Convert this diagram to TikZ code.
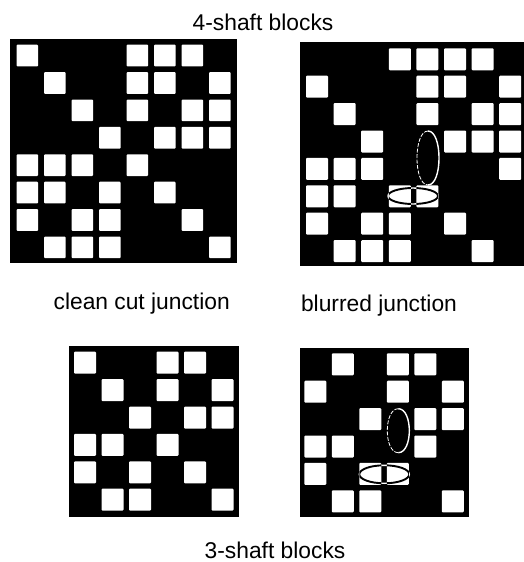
\documentclass[tikz,border=0pt]{standalone}
\usepackage{fontspec}
\setmainfont{Liberation Sans}

\begin{document}
\begin{tikzpicture}[
  x=1pt,y=-1pt,
  board/.style={fill=black},
  cell/.style={fill=white,rounded corners=1pt},
  caption/.style={font=\fontsize{22.8}{24}\selectfont,text=black,inner sep=0pt,anchor=base},
  ringlight/.style={draw=white,line width=1.4pt},
  ringfaint/.style={draw=white,line width=0.8pt,dash pattern=on 4pt off 1.5pt},
  ringdark/.style={draw=black,line width=1.9pt},
]
\useasboundingbox (0,0) rectangle (524,562);
\node[caption] (top) at (263,30.5) {4-shaft blocks};
\node[caption] (clean) at (141.7,309) {clean cut junction};
\node[caption] (blurred) at (379,311) {blurred junction};
\node[caption] (bottom) at (275,558) {3-shaft blocks};
% 4-shaft, clean
\fill[board] (10,39) rectangle (237,263);
\foreach \r/\row in {0/{0,4,5,6},1/{1,4,5,7},2/{2,4,6,7},3/{3,5,6,7},4/{0,1,2,4},5/{0,1,3,5},6/{0,2,3,6},7/{1,2,3,7}}{
  \foreach \c in \row {\fill[cell] (16.5+27.5*\c,44.7+27.4*\r) rectangle ++(21.7,21.7);}}
% 4-shaft, blurred
\fill[board] (300,41.5) rectangle (524,265.5);
\foreach \r/\row in {0/{3,4,5,6},1/{0,4,5,7},2/{1,4,6,7},3/{2,5,6,7},4/{0,1,2,7},5/{0,1,3,4},6/{0,2,3,5},7/{1,2,3,6}}{
  \foreach \c in \row {\fill[cell] (306+27.6*\c,48.3+27.4*\r) rectangle ++(22,22);}}
\draw[ringlight] (428,131) .. controls (442.7,131) and (442.7,185) .. (428,185);
\draw[ringfaint] (428,131) .. controls (413.3,131) and (413.3,185) .. (428,185);
\draw[ringlight] (413,196) ellipse (25 and 8);
\begin{scope}
\clip (388.8,185.3) rectangle ++(22,22) (416.4,185.3) rectangle ++(22,22);
\draw[ringdark] (413,196) ellipse (25 and 8);
\end{scope}
% 3-shaft, clean
\fill[board] (68.5,346) rectangle (239,516.5);
\foreach \r/\row in {0/{0,3,4},1/{1,3,5},2/{2,4,5},3/{0,1,3},4/{0,2,4},5/{1,2,5}}{
  \foreach \c in \row {\fill[cell] (74+27.5*\c,351.7+27.4*\r) rectangle ++(22,22);}}
% 3-shaft, blurred
\fill[board] (300,348.3) rectangle (469,517.3);
\foreach \r/\row in {0/{1,3,4},1/{0,3,5},2/{2,4,5},3/{0,1,4},4/{0,2,3},5/{1,2,5}}{
  \foreach \c in \row {\fill[cell] (304.3+27.5*\c,353.3+27.4*\r) rectangle ++(22,22);}}
\draw[ringlight] (398.3,408.7) .. controls (413,408.7) and (413,452.7) .. (398.3,452.7);
\draw[ringfaint] (398.3,408.7) .. controls (383.6,408.7) and (383.6,452.7) .. (398.3,452.7);
\draw[ringlight] (384.3,474.3) ellipse (25 and 9);
\begin{scope}
\clip (359.3,463) rectangle ++(22,22) (386.8,463) rectangle ++(22,22);
\draw[ringdark] (384.3,474.3) ellipse (25 and 9);
\end{scope}
\end{tikzpicture}
\end{document}
